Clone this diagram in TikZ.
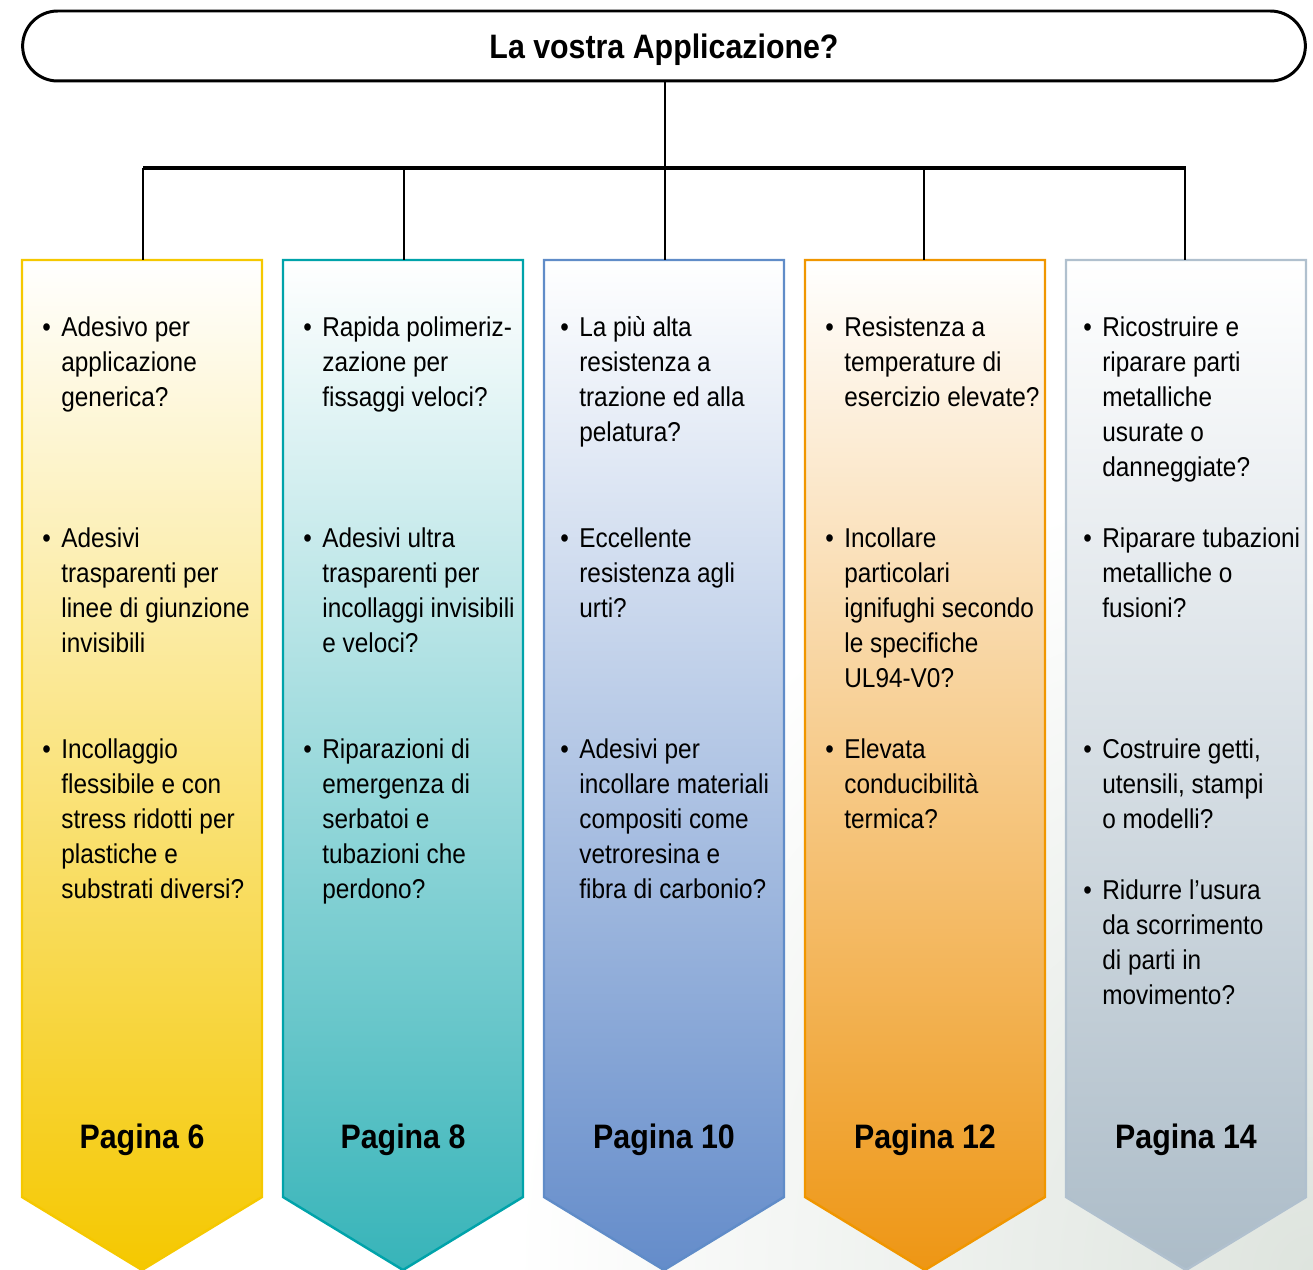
\documentclass[tikz,border=0pt]{standalone}
\usepackage{fontspec}
\setmainfont{Liberation Sans}[FakeStretch=0.895]
\usepackage{xcolor}
\usepackage{tikz}
\usetikzlibrary{positioning, calc}
\definecolor{gluegold}{RGB}{245,200,0}
\definecolor{glueteal}{RGB}{0,163,170}
\definecolor{glueblue}{RGB}{96,140,200}
\definecolor{glueorange}{RGB}{240,150,0}
\definecolor{gluegray}{RGB}{176,192,206}
\definecolor{tealfill}{RGB}{55,180,185}
\definecolor{bluefill}{RGB}{100,140,202}
\definecolor{orangefill}{RGB}{238,150,20}
\definecolor{grayfill}{RGB}{172,188,200}
\definecolor{mist}{RGB}{222,228,222}
\tikzset{
    appcol/.style 2 args={draw=#1, line width=1.4pt, line join=miter, top color=white, bottom color=#2},
    apptitle/.style={draw, line width=1.7pt, rounded corners=0.7cm, minimum width=25.66cm, minimum height=1.4cm, text depth=0pt, font=\fontsize{19.3}{23}\selectfont\bfseries},
    apppage/.style={font=\fontsize{19.3}{23}\selectfont\bfseries, inner sep=0pt},
    appitem/.style={anchor=north west, align=left, inner sep=0pt, font=\fontsize{15.5}{20}\selectfont},
    trunk/.style={line width=1.4pt},
    bus/.style={line width=2.8pt},
}
\newcommand{\bul}{\llap{\textbullet\hspace{6pt}}}

\begin{document}
\begin{tikzpicture}[x=0.02cm, y=-0.02cm]
\useasboundingbox (0,0) rectangle (1313,1270);

% soft backdrop, lower right
\begin{scope}
    \clip (0,0) rectangle (1313,1270);
    \shade[inner color=mist, outer color=white] (1313,1270) circle (800);
\end{scope}

\node[apptitle] (title) at (664,46) {La vostra Applicazione?};

% columns
\path[appcol={gluegold}{gluegold}] (22,260) -- (262,260) -- (262,1197) -- (142,1270) -- (22,1197) -- cycle;
\path[appcol={glueteal}{tealfill}] (283,260) -- (523,260) -- (523,1197) -- (403,1270) -- (283,1197) -- cycle;
\path[appcol={glueblue}{bluefill}] (544,260) -- (784,260) -- (784,1197) -- (664,1270) -- (544,1197) -- cycle;
\path[appcol={glueorange}{orangefill}] (805,260) -- (1045,260) -- (1045,1197) -- (925,1270) -- (805,1197) -- cycle;
\path[appcol={gluegray}{grayfill}] (1066,260) -- (1306,260) -- (1306,1197) -- (1186,1270) -- (1066,1197) -- cycle;

\coordinate (hub) at (665,168);
\coordinate (b1) at (143,168);
\coordinate (b5) at (1186,168);
\coordinate (t1) at (143,260);
\coordinate (t2) at (404,260);
\coordinate (t3) at (665,260);
\coordinate (t4) at (924,260);
\coordinate (t5) at (1185,260);

\draw[trunk] (hub |- title.south) -- (hub);
\draw[bus] (b1) -- (b5);
\draw[trunk] (t1) -- (t1 |- hub);
\draw[trunk] (t2) -- (t2 |- hub);
\draw[trunk] (t3) -- (hub);
\draw[trunk] (t4) -- (t4 |- hub);
\draw[trunk] (t5) -- (t5 |- hub);

% column 1
\node[appitem] (a1) at (61,316) {\bul Adesivo per\\applicazione\\generica?};
\node[appitem] (a2) at (61,527) {\bul Adesivi\\trasparenti per\\linee di giunzione\\invisibili};
\node[appitem] (a3) at (61,738) {\bul Incollaggio\\flessibile e con\\stress ridotti per\\plastiche e\\substrati diversi?};
% column 2
\node[appitem] (b1t) at (322,316) {\bul Rapida polimeriz-\\zazione per\\fissaggi veloci?};
\node[appitem] (b2t) at (322,527) {\bul Adesivi ultra\\trasparenti per\\incollaggi invisibili\\e veloci?};
\node[appitem] (b3t) at (322,738) {\bul Riparazioni di\\emergenza di\\serbatoi e\\tubazioni che\\perdono?};
% column 3
\node[appitem] (c1) at (579,316) {\bul La più alta\\resistenza a\\trazione ed alla\\pelatura?};
\node[appitem] (c2) at (579,527) {\bul Eccellente\\resistenza agli\\urti?};
\node[appitem] (c3) at (579,738) {\bul Adesivi per\\incollare materiali\\compositi come\\vetroresina e\\fibra di carbonio?};
% column 4
\node[appitem] (d1) at (844,316) {\bul Resistenza a\\temperature di\\esercizio elevate?};
\node[appitem] (d2) at (844,527) {\bul Incollare\\particolari\\ignifughi secondo\\le specifiche\\UL94-V0?};
\node[appitem] (d3) at (844,738) {\bul Elevata\\conducibilità\\termica?};
% column 5
\node[appitem] (e1) at (1102,316) {\bul Ricostruire e\\riparare parti\\metalliche\\usurate o\\danneggiate?};
\node[appitem] (e2) at (1102,527) {\bul Riparare tubazioni\\metalliche o\\fusioni?};
\node[appitem] (e3) at (1102,738) {\bul Costruire getti,\\utensili, stampi\\o modelli?};
\node[appitem] (e4) at (1102,879) {\bul Ridurre l’usura\\da scorrimento\\di parti in\\movimento?};

\node[apppage] (p1) at (142,1140) {Pagina 6};
\node[apppage] (p2) at (403,1140) {Pagina 8};
\node[apppage] (p3) at (664,1140) {Pagina 10};
\node[apppage] (p4) at (925,1140) {Pagina 12};
\node[apppage] (p5) at (1186,1140) {Pagina 14};

\end{tikzpicture}
\end{document}
